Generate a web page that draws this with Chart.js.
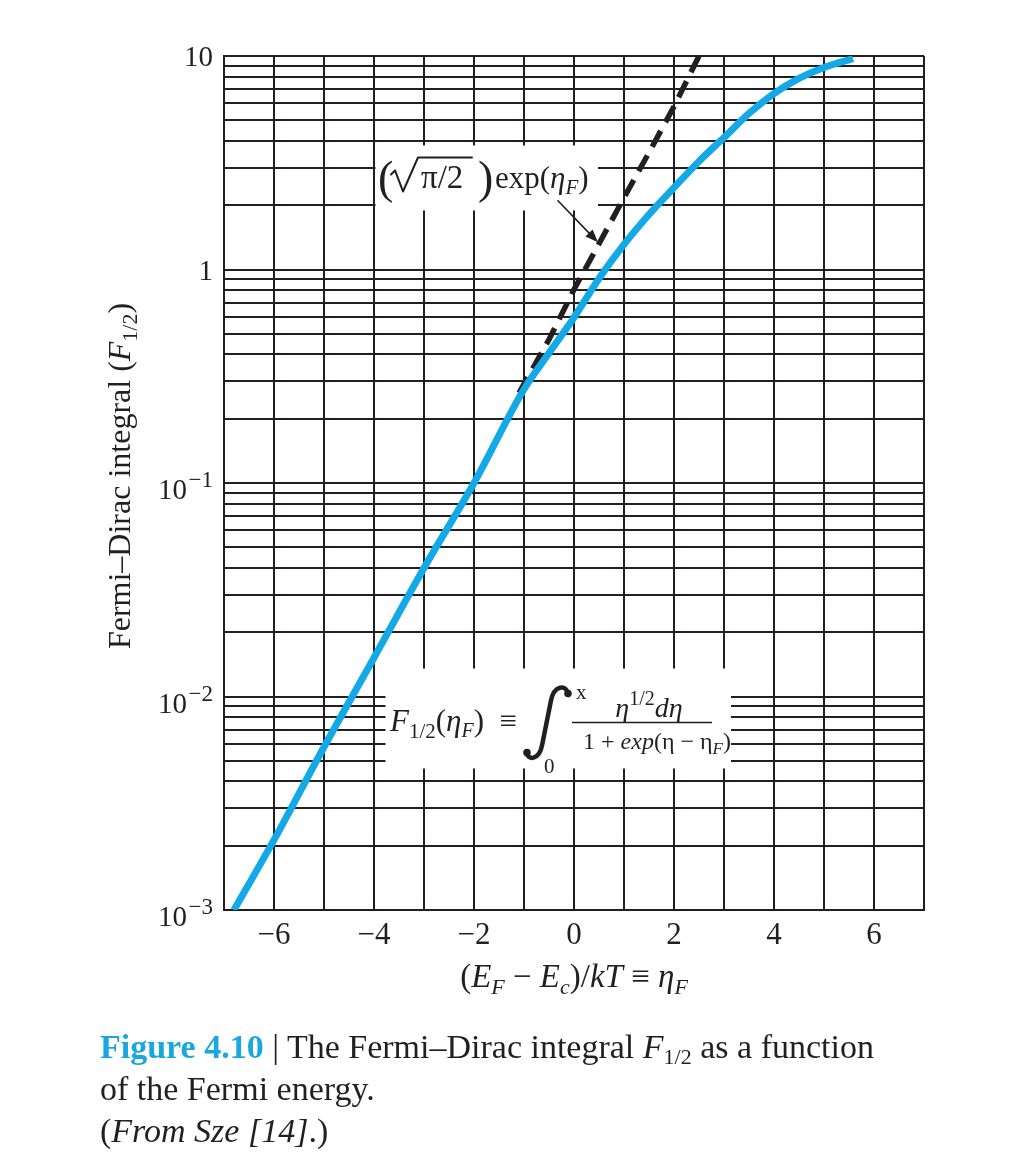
<!DOCTYPE html>
<html>
<head>
<meta charset="utf-8">
<script src="https://cdn.jsdelivr.net/npm/chart.js@4.4.1/dist/chart.umd.min.js"></script>
<style>
html, body { margin: 0; padding: 0; background: #fff; }
#wrap { position: relative; width: 1029px; height: 1168px; }
canvas { position: absolute; left: 0; top: 0; }
.cap { position: absolute; left: 100px; top: 1026px; font: 34px "Liberation Serif", serif; line-height: 42px; color: #231f20; white-space: nowrap; }
.cap b { color: #1aa7e0; }
.cap sub { font-size: 22px; vertical-align: -6px; line-height: 0; }
</style>
</head>
<body>
<div id="wrap">
  <canvas id="chart" width="1029" height="1168"></canvas>
  <div class="cap">
    <b>Figure 4.10</b> | The Fermi–Dirac integral <i>F</i><sub>1/2</sub> as a function<br>
    of the Fermi energy.<br>
    (<i>From Sze [14]</i>.)
  </div>
</div>
<script>
// Fermi-Dirac integral
const etaF  = [-6.8, -6, -5, -4, -3, -2, -1, -0.5, 0, 0.5, 1, 1.5, 2, 2.5, 3, 3.5, 4, 4.5, 5, 5.58];
const fHalf = [0.001, 0.00213, 0.0058, 0.0152, 0.040, 0.100, 0.275, 0.406, 0.596, 0.908, 1.31, 1.81, 2.42, 3.21, 4.15, 5.38, 6.67, 7.85, 8.83, 9.73];

// Boltzmann approximation (sqrt(pi)/2) exp(eta_F), dashed
const etaBoltz = [-1.1, -0.5, 0, 0.5, 1, 1.5, 2, 2.5];
const boltz    = [0.264, 0.47, 0.806, 1.32, 2.17, 3.53, 5.8, 10];

const xLabelTicks = [-6, -4, -2, 0, 2, 4, 6];
const yDecades = [0.001, 0.01, 0.1, 1, 10];
const yDecadeLabels = [['10', '\u22123'], ['10', '\u22122'], ['10', '\u22121'], ['1', ''], ['10', '']];

// grid lines at 1..9 of every decade
const yGrid = [];
for (let i = 0; i < yDecades.length - 1; i++) {
  for (let k = 1; k <= 9; k++) yGrid.push(Number((yDecades[i] * k).toPrecision(3)));
}
yGrid.push(yDecades[yDecades.length - 1]);

const INK = '#231f20';
const BLUE = '#12a9e6';
const F = (s, st) => (st || '') + ' ' + s + 'px "Liberation Serif", serif';

function runs(ctx, parts, x, y, align) {
  let w = 0;
  parts.forEach(p => { ctx.font = p.f; p.w = ctx.measureText(p.t).width; w += p.w; });
  let cx = align === 'center' ? x - w / 2 : align === 'right' ? x - w : x;
  const pos = [];
  parts.forEach(p => {
    ctx.font = p.f;
    ctx.fillText(p.t, cx, y + (p.dy || 0));
    pos.push([cx, cx + p.w]);
    cx += p.w;
  });
  return pos;
}

const decor = {
  id: 'decor',
  beforeDatasetsDraw(chart) {
    const ctx = chart.ctx, xs = chart.scales.x, ys = chart.scales.y;
    ctx.save();
    ctx.fillStyle = '#fff';
    // label boxes knock out the grid
    [[-4, 0.48, 1.89, 3.81], [-3.8, 3.14, 0.0046, 0.01352]].forEach(b => {
      const x0 = xs.getPixelForValue(b[0]) + 1.5, x1 = xs.getPixelForValue(b[1]);
      const y0 = ys.getPixelForValue(b[3]), y1 = ys.getPixelForValue(b[2]);
      ctx.fillRect(x0, y0, x1 - x0, y1 - y0);
    });
    ctx.restore();
  },
  afterDraw(chart) {
    const ctx = chart.ctx, xs = chart.scales.x, ys = chart.scales.y;
    ctx.save();
    ctx.fillStyle = INK;
    ctx.strokeStyle = INK;
    ctx.textBaseline = 'alphabetic';
    ctx.textAlign = 'left';
    ctx.lineCap = 'round';
    ctx.lineJoin = 'round';

    // y tick labels
    yDecades.forEach((v, i) => {
      const py = ys.getPixelForValue(v);
      const [b, e] = yDecadeLabels[i];
      if (e) runs(ctx, [{ t: b, f: F(29) }, { t: ' ', f: F(6) }, { t: e, f: F(23), dy: -12 }], 213, py + 16, 'right');
      else runs(ctx, [{ t: b, f: F(29) }], 213, py + 10, 'right');
    });

    // x title
    runs(ctx, [
      { t: '(', f: F(33) }, { t: 'E', f: F(33, 'italic') }, { t: 'F', f: F(22, 'italic'), dy: 7 },
      { t: ' \u2212 ', f: F(33) }, { t: 'E', f: F(33, 'italic') }, { t: 'c', f: F(22, 'italic'), dy: 7 },
      { t: ')/', f: F(33) }, { t: 'kT', f: F(33, 'italic') }, { t: ' \u2261 ', f: F(33) },
      { t: '\u03b7', f: F(33, 'italic') }, { t: 'F', f: F(22, 'italic'), dy: 7 }
    ], 574, 987, 'center');

    // y title (rotated)
    ctx.save();
    ctx.translate(130, 476);
    ctx.rotate(-Math.PI / 2);
    runs(ctx, [
      { t: 'Fermi\u2013Dirac integral (', f: F(32) }, { t: 'F', f: F(32, 'italic') },
      { t: '1/2', f: F(22), dy: 7 }, { t: ')', f: F(32) }
    ], 0, 0, 'center');
    ctx.restore();

    // label 1: (sqrt(pi/2)) exp(eta_F)
    const bx = xs.getPixelForValue(-4), by = ys.getPixelForValue(1.89) - 22;
    ctx.font = F(46);
    ctx.fillText('(', bx + 4, by + 5);
    ctx.lineWidth = 2;
    ctx.beginPath();
    ctx.moveTo(bx + 17, by - 14);
    ctx.lineTo(bx + 21, by - 18);
    ctx.lineTo(bx + 29, by + 3);
    ctx.lineTo(bx + 44, by - 31);
    ctx.lineTo(bx + 98, by - 31);
    ctx.stroke();
    ctx.font = F(33);
    ctx.fillText('\u03c0/2', bx + 47, by);
    ctx.font = F(46);
    ctx.fillText(')', bx + 104, by + 5);
    runs(ctx, [
      { t: 'exp(', f: F(31) }, { t: '\u03b7', f: F(31, 'italic') },
      { t: 'F', f: F(21, 'italic'), dy: 6 }, { t: ')', f: F(31) }
    ], bx + 121, by, 'left');

    // arrow to the dashed line
    const ax0 = xs.getPixelForValue(-0.32), ay0 = ys.getPixelForValue(2.1);
    const ax1 = xs.getPixelForValue(0.48), ay1 = ys.getPixelForValue(1.34);
    const ang = Math.atan2(ay1 - ay0, ax1 - ax0);
    ctx.lineWidth = 1.6;
    ctx.beginPath();
    ctx.moveTo(ax0, ay0);
    ctx.lineTo(ax1 - 8 * Math.cos(ang), ay1 - 8 * Math.sin(ang));
    ctx.stroke();
    ctx.beginPath();
    ctx.moveTo(ax1, ay1);
    ctx.lineTo(ax1 - 13 * Math.cos(ang) + 5 * Math.sin(ang), ay1 - 13 * Math.sin(ang) - 5 * Math.cos(ang));
    ctx.lineTo(ax1 - 13 * Math.cos(ang) - 5 * Math.sin(ang), ay1 - 13 * Math.sin(ang) + 5 * Math.cos(ang));
    ctx.closePath();
    ctx.fill();

    // label 2: definition of F_1/2
    const fx = xs.getPixelForValue(-3.8) + 6, fy = ys.getPixelForValue(0.01352) + 62;
    runs(ctx, [
      { t: 'F', f: F(31, 'italic') }, { t: '1/2', f: F(21), dy: 7 }, { t: '(', f: F(31) },
      { t: '\u03b7', f: F(31, 'italic') }, { t: 'F', f: F(20, 'italic'), dy: 6 }, { t: ')  \u2261', f: F(31) }
    ], fx, fy, 'left');
    // integral sign
    const ix = fx + 136, iy = fy;
    ctx.lineWidth = 4.5;
    ctx.beginPath();
    ctx.moveTo(ix + 42, iy - 38);
    ctx.bezierCurveTo(ix + 39, iy - 46, ix + 28, iy - 45, ix + 25, iy - 30);
    ctx.lineTo(ix + 16, iy + 15);
    ctx.bezierCurveTo(ix + 13, iy + 30, ix + 2, iy + 30, ix, iy + 22);
    ctx.stroke();
    ctx.beginPath();
    ctx.arc(ix + 42, iy - 37, 3.8, 0, Math.PI * 2);
    ctx.arc(ix + 1, iy + 22, 3.8, 0, Math.PI * 2);
    ctx.fill();
    ctx.font = F(21);
    ctx.fillText('0', ix + 18, iy + 42);
    ctx.fillText('x', ix + 50, iy - 32);
    const cx = fx + 259;
    runs(ctx, [
      { t: '\u03b7', f: F(28, 'italic') }, { t: '1/2', f: F(20), dy: -12 },
      { t: 'd\u03b7', f: F(28, 'italic') }
    ], cx, fy - 14, 'center');
    ctx.lineWidth = 1.6;
    ctx.lineCap = 'butt';
    ctx.beginPath();
    ctx.moveTo(fx + 182, fy - 8);
    ctx.lineTo(fx + 322, fy - 8);
    ctx.stroke();
    runs(ctx, [
      { t: '1 + ', f: F(24) }, { t: 'exp', f: F(24, 'italic') }, { t: '(\u03b7 \u2212 \u03b7', f: F(24) },
      { t: 'F', f: F(17, 'italic'), dy: 5 }, { t: ')', f: F(24) }
    ], cx + 8, fy + 18, 'center');

    ctx.restore();
  }
};

new Chart(document.getElementById('chart'), {
  type: 'line',
  data: {
    datasets: [
      {
        data: etaF.map((x, i) => ({ x: x, y: fHalf[i] })),
        borderColor: BLUE,
        borderWidth: 7,
        pointRadius: 0,
        cubicInterpolationMode: 'monotone',
        fill: false
      },
      {
        data: etaBoltz.map((x, i) => ({ x: x, y: boltz[i] })),
        borderColor: INK,
        borderWidth: 5.5,
        borderDash: [18, 10],
        pointRadius: 0,
        tension: 0,
        fill: false
      }
    ]
  },
  options: {
    responsive: false,
    animation: false,
    events: [],
    layout: { padding: { left: 224, right: 105, top: 56, bottom: 213 } },
    plugins: { legend: { display: false }, tooltip: { enabled: false } },
    scales: {
      x: {
        type: 'linear',
        min: -7,
        max: 7,
        grid: { color: INK, lineWidth: 2, drawTicks: false },
        border: { color: INK, width: 2 },
        ticks: {
          stepSize: 1,
          autoSkip: false,
          maxRotation: 0,
          padding: 7,
          color: INK,
          font: { family: '"Liberation Serif", serif', size: 31 },
          callback: v => xLabelTicks.includes(v) ? (v < 0 ? '\u2212' + (-v) : String(v)) : ''
        },
        afterFit: s => { s.height = 45; }
      },
      y: {
        type: 'logarithmic',
        min: 0.001,
        max: 10,
        grid: { color: INK, lineWidth: 2, drawTicks: false },
        border: { color: INK, width: 2 },
        ticks: { display: false },
        afterBuildTicks: s => { s.ticks = yGrid.map(v => ({ value: v })); },
        afterFit: s => { s.width = 0; }
      }
    }
  },
  plugins: [decor]
});
</script>
</body>
</html>
